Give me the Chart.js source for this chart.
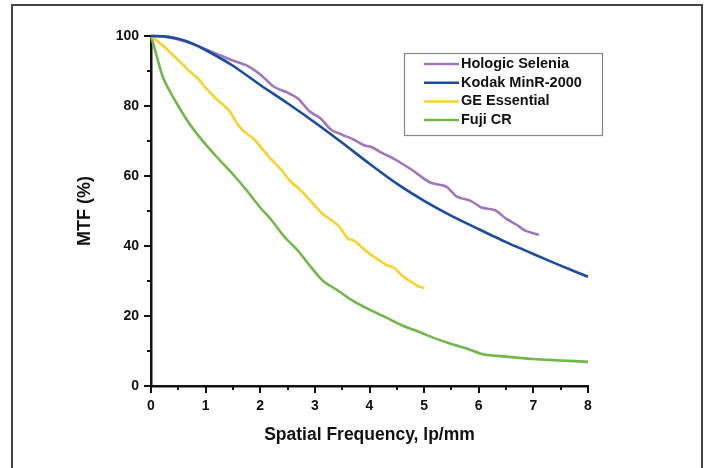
<!DOCTYPE html>
<html>
<head>
<meta charset="utf-8">
<script src="https://cdn.jsdelivr.net/npm/chart.js@4"></script>
<style>
  body { margin: 0; background: #fff; }
  #wrap { position: relative; width: 709px; height: 468px; overflow: hidden; }
  #frame { position: absolute; left: 11px; top: 4px; width: 692px; height: 480px; border: 2px solid #444; box-sizing: border-box; }
  #mtf { position: absolute; left: 0; top: 0; }
</style>
</head>
<body>
<div id="wrap">
  <div id="frame"></div>
  <canvas id="mtf" width="709" height="468"></canvas>
</div>
<script>
const seriesNames = ['Hologic Selenia', 'Kodak MinR-2000', 'GE Essential', 'Fuji CR']
const seriesColors = ['#a077bd', '#1b4c9e', '#f7d32c', '#72b74a']

const hologicX = [0, 0.25, 0.5, 0.75, 1, 1.25, 1.5, 1.75, 2, 2.25, 2.5, 2.7, 2.9, 3.1, 3.3, 3.5, 3.7, 3.9, 4.05, 4.2, 4.4, 4.6, 4.8, 5, 5.15, 5.4, 5.6, 5.85, 6.05, 6.3, 6.5, 6.7, 6.85, 7.1]
const hologicY = [100, 99.8, 99, 97.8, 96.2, 94.6, 93, 91.6, 89, 85.5, 83.8, 82, 78.5, 76.5, 73.2, 71.8, 70.5, 68.8, 68.2, 66.8, 65.3, 63.5, 61.5, 59.2, 57.9, 57, 54.1, 52.9, 51, 50.2, 47.8, 46, 44.4, 43.2]

const kodakX = [0, 0.25, 0.5, 0.75, 1, 1.5, 2, 2.5, 3, 3.5, 4, 4.5, 5, 5.5, 6, 6.5, 7, 7.5, 8]
const kodakY = [100, 99.9, 99.2, 97.9, 96, 91.5, 86, 80.8, 75.3, 69.5, 63.5, 57.8, 52.9, 48.6, 44.8, 41.1, 37.7, 34.4, 31.2]

const geX = [0, 0.25, 0.5, 0.7, 0.85, 1, 1.2, 1.42, 1.6, 1.7, 1.9, 2.05, 2.21, 2.4, 2.55, 2.7, 2.85, 3, 3.16, 3.3, 3.45, 3.6, 3.72, 3.83, 4, 4.15, 4.32, 4.45, 4.6, 4.74, 4.88, 5]
const geY = [100, 96.8, 93.1, 90, 88, 85.2, 82, 78.9, 74.5, 72.8, 70.3, 67.5, 64.6, 61.5, 58.5, 56.5, 54.1, 51.5, 48.9, 47.4, 45.5, 42.2, 41.5, 40, 37.8, 36.2, 34.5, 33.8, 31.5, 30, 28.6, 28]

const fujiX = [0, 0.1, 0.2, 0.3, 0.5, 0.7, 0.93, 1.2, 1.5, 1.72, 2, 2.2, 2.45, 2.7, 2.9, 3.15, 3.4, 3.7, 4, 4.3, 4.6, 4.9, 5.2, 5.5, 5.8, 6.1, 6.5, 7, 7.5, 8]
const fujiY = [100, 94.5, 89, 85.5, 80, 75, 70.3, 65.5, 60.5, 56.5, 51, 47.5, 42.5, 38.5, 34.5, 30, 27.5, 24.3, 21.8, 19.6, 17.3, 15.5, 13.6, 12, 10.6, 9, 8.4, 7.7, 7.3, 6.9]

const xTicks = [0, 1, 2, 3, 4, 5, 6, 7, 8]
const yTicks = [0, 20, 40, 60, 80, 100]

const toPoints = (xs, ys) => xs.map((x, i) => ({x: x, y: ys[i]}))
const allX = [hologicX, kodakX, geX, fujiX]
const allY = [hologicY, kodakY, geY, fujiY]

const tickFont = {family: 'Liberation Sans', size: 14, weight: 'bold'}

// minor + major tick marks drawn outward from the axes
const tickMarks = {
  id: 'tickMarks',
  afterDraw(chart) {
    const {ctx, scales: {x, y}} = chart
    ctx.save()
    ctx.strokeStyle = '#111'
    ctx.lineWidth = 2
    ctx.beginPath()
    for (let v = 0; v <= 100; v += 10) {
      const py = Math.round(y.getPixelForValue(v))
      const len = v % 20 === 0 ? 7 : 4
      ctx.moveTo(x.left, py)
      ctx.lineTo(x.left - len, py)
    }
    for (let v = 0; v <= 8; v += 0.5) {
      const px = Math.round(x.getPixelForValue(v))
      const len = v % 1 === 0 ? 7 : 4
      ctx.moveTo(px, y.bottom)
      ctx.lineTo(px, y.bottom + len)
    }
    ctx.stroke()
    ctx.restore()
  }
}

// legend box inside the plot, upper right
const boxLegend = {
  id: 'boxLegend',
  afterDraw(chart) {
    const {ctx} = chart
    const left = 404, top = 53, w = 198, h = 82
    ctx.save()
    ctx.strokeStyle = '#888'
    ctx.lineWidth = 1.2
    ctx.strokeRect(left + 0.5, top + 0.5, w, h)
    ctx.font = 'bold 14.5px "Liberation Sans"'
    ctx.textBaseline = 'middle'
    ctx.fillStyle = '#111'
    seriesNames.forEach((name, i) => {
      const cy = 64 + i * 18.7
      ctx.strokeStyle = seriesColors[i]
      ctx.lineWidth = 2.5
      ctx.beginPath()
      ctx.moveTo(424, cy)
      ctx.lineTo(459, cy)
      ctx.stroke()
      ctx.fillText(name, 461, cy)
    })
    ctx.restore()
  }
}

new Chart(document.getElementById('mtf'), {
  type: 'line',
  data: {
    datasets: seriesNames.map((name, i) => ({
      label: name,
      data: toPoints(allX[i], allY[i]),
      borderColor: seriesColors[i],
      backgroundColor: seriesColors[i],
      borderWidth: 2.6,
      pointRadius: 0,
      tension: 0.25,
      order: i === 1 ? 0 : 1,
      clip: false
    }))
  },
  options: {
    responsive: false,
    animation: false,
    layout: {padding: {left: 0, top: 36, right: 121, bottom: 0}},
    plugins: {
      legend: {display: false},
      tooltip: {enabled: false}
    },
    scales: {
      x: {
        type: 'linear',
        min: 0,
        max: 8,
        afterFit: s => { s.height = 82 },
        afterBuildTicks: s => { s.ticks = xTicks.map(v => ({value: v})) },
        grid: {drawOnChartArea: false, drawTicks: false},
        border: {display: true, color: '#111', width: 2.5},
        ticks: {color: '#111', font: tickFont, padding: 12, maxRotation: 0},
        title: {display: true, text: 'Spatial Frequency, lp/mm', color: '#111', font: {family: 'Liberation Sans', size: 17.5, weight: 'bold'}, padding: {top: 0, bottom: 22}}
      },
      y: {
        min: 0,
        max: 100,
        afterFit: s => { s.width = 151 },
        afterBuildTicks: s => { s.ticks = yTicks.map(v => ({value: v})) },
        grid: {drawOnChartArea: false, drawTicks: false},
        border: {display: true, color: '#111', width: 2.5},
        ticks: {color: '#111', font: tickFont, padding: 12},
        title: {display: true, text: 'MTF (%)', color: '#111', font: {family: 'Liberation Sans', size: 18, weight: 'bold'}, padding: {top: 74, bottom: 0}}
      }
    }
  },
  plugins: [tickMarks, boxLegend]
})
</script>
</body>
</html>
